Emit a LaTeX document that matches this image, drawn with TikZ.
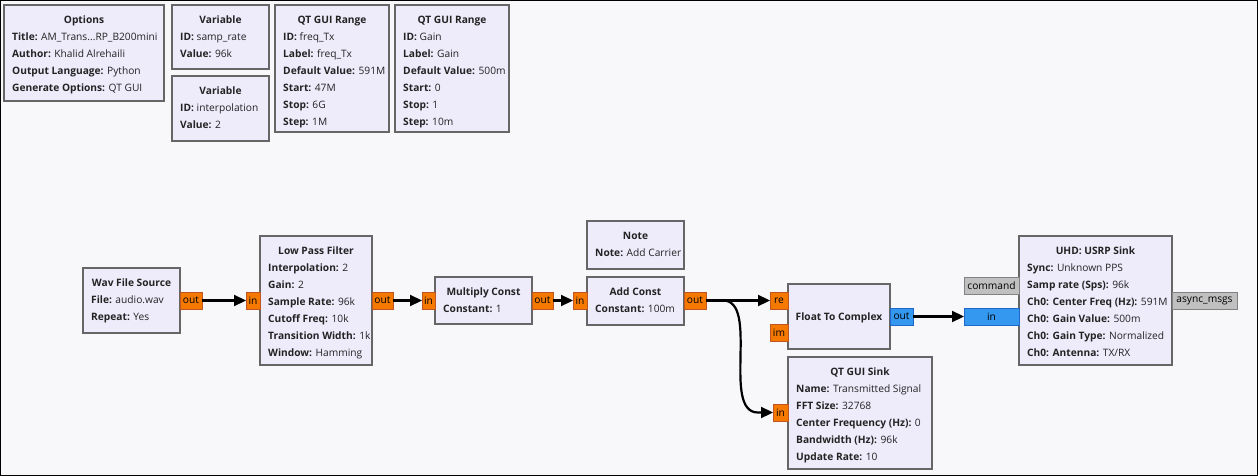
\documentclass[tikz,border=0pt]{standalone}
\usepackage{fontspec}
\setmainfont{Open Sans}
\usetikzlibrary{arrows.meta,calc}
\definecolor{bgc}{RGB}{248,248,250}
\definecolor{blkfill}{RGB}{238,235,250}
\definecolor{blkdraw}{RGB}{102,102,102}
\definecolor{fport}{RGB}{245,121,0}
\definecolor{fportd}{RGB}{190,85,35}
\definecolor{cport}{RGB}{52,152,240}
\definecolor{cportd}{RGB}{30,105,200}
\definecolor{mport}{RGB}{192,192,192}
\definecolor{mportd}{RGB}{130,130,130}
\definecolor{txt}{RGB}{35,35,35}
\newcommand\fsz{\fontsize{10.2}{17}\selectfont}
\newcommand\kv[2]{\textbf{#1:} #2}
\tikzset{
 blk/.style={draw=blkdraw, fill=blkfill, line width=2pt, rectangle, inner sep=0pt, outer sep=0pt, anchor=north west},
 ttl/.style={anchor=base, inner sep=0pt, font=\fsz\bfseries, text=txt},
 prm/.style={anchor=base west, inner sep=0pt, font=\fsz, text=txt},
 port/.style={rectangle, line width=1pt, inner sep=0pt, outer sep=0pt, anchor=north west, font=\fsz, text=black},
 fp/.style={port, draw=fportd, fill=fport},
 cp/.style={port, draw=cportd, fill=cport},
 mp/.style={port, draw=mportd, fill=mport},
 conn/.style={draw=black, line width=2.2pt, -{Triangle[length=12pt,width=11pt]}},
 frame/.style={draw=black, line width=2pt},
}
\newcommand\blk[7]{%
 \node[blk, minimum width=#4pt, minimum height=#5pt] (#1) at (#2,#3) {};
 \node[ttl] (#1-t) at ($(#1.north)+(0,18.5)$) {#6};
 \node[prm] (#1-p) at ($(#1.north west)+(8,35.5)$) {\begin{tabular}[t]{@{}l@{}}#7\end{tabular}};
}
\newcommand\prt[7]{%
 \node[#1, minimum width=#5pt, minimum height=#6pt] (#2) at (#3,#4) {#7};
}
\begin{document}
\begin{tikzpicture}[x=1pt,y=-1pt]
\useasboundingbox (0,0) rectangle (1258,476);
\fill[bgc] (0,0) rectangle (1258,476);
\draw[frame] (0,0) rectangle (1258,476);

% variable / option blocks
\blk{opt}{4}{5}{160}{96}{Options}{\kv{Title}{AM\_Trans...RP\_B200mini}\\ \kv{Author}{Khalid Alrehaili}\\ \kv{Output Language}{Python}\\ \kv{Generate Options}{QT GUI}}
\blk{var1}{172}{5}{97}{64}{Variable}{\kv{ID}{samp\_rate}\\ \kv{Value}{96k}}
\blk{var2}{172}{76}{97}{65}{Variable}{\kv{ID}{interpolation}\\ \kv{Value}{2}}
\blk{rng1}{275}{5}{114}{127}{QT GUI Range}{\kv{ID}{freq\_Tx}\\ \kv{Label}{freq\_Tx}\\ \kv{Default Value}{591M}\\ \kv{Start}{47M}\\ \kv{Stop}{6G}\\ \kv{Step}{1M}}
\blk{rng2}{395}{5}{114}{127}{QT GUI Range}{\kv{ID}{Gain}\\ \kv{Label}{Gain}\\ \kv{Default Value}{500m}\\ \kv{Start}{0}\\ \kv{Stop}{1}\\ \kv{Step}{10m}}

% flow blocks
\blk{wav}{83}{268}{97}{65}{Wav File Source}{\kv{File}{audio.wav}\\ \kv{Repeat}{Yes}}
\blk{lpf}{260}{236}{112}{129}{Low Pass Filter}{\kv{Interpolation}{2}\\ \kv{Gain}{2}\\ \kv{Sample Rate}{96k}\\ \kv{Cutoff Freq}{10k}\\ \kv{Transition Width}{1k}\\ \kv{Window}{Hamming}}
\blk{mul}{435}{277}{97}{47}{Multiply Const}{\kv{Constant}{1}}
\blk{note}{587}{221}{97}{48}{Note}{\kv{Note}{Add Carrier}}
\blk{add}{587}{277}{97}{48}{Add Const}{\kv{Constant}{100m}}
\node[blk, minimum width=102pt, minimum height=65pt] (f2c) at (788,284) {};
\node[ttl] (f2c-t) at ($(f2c.center)+(0,4)$) {Float To Complex};
\blk{gui}{788}{357}{144}{112}{QT GUI Sink}{\kv{Name}{Transmitted Signal}\\ \kv{FFT Size}{32768}\\ \kv{Center Frequency (Hz)}{0}\\ \kv{Bandwidth (Hz)}{96k}\\ \kv{Update Rate}{10}}
\blk{usrp}{1019}{236}{153}{129}{UHD: USRP Sink}{\kv{Sync}{Unknown PPS}\\ \kv{Samp rate (Sps)}{96k}\\ \kv{Ch0: Center Freq (Hz)}{591M}\\ \kv{Ch0: Gain Value}{500m}\\ \kv{Ch0: Gain Type}{Normalized}\\ \kv{Ch0: Antenna}{TX/RX}}

% ports
\prt{fp}{wav-o}{180}{292}{22}{17}{out}
\prt{fp}{lpf-i}{246}{292}{14}{17}{in}
\prt{fp}{lpf-o}{372}{292}{21}{17}{out}
\prt{fp}{mul-i}{422}{292}{13}{17}{in}
\prt{fp}{mul-o}{532}{292}{21}{17}{out}
\prt{fp}{add-i}{573}{292}{14}{17}{in}
\prt{fp}{add-o}{684}{292}{22}{17}{out}
\prt{fp}{f2c-re}{770}{292}{18}{17}{re}
\prt{fp}{f2c-im}{770}{324}{18}{17}{im}
\prt{cp}{f2c-o}{890}{308}{23}{17}{out}
\prt{fp}{gui-i}{773}{404}{15}{17}{in}
\prt{mp}{usrp-c}{964}{277}{55}{17}{command}
\prt{cp}{usrp-i}{964}{308}{55}{17}{in}
\prt{mp}{usrp-a}{1172}{292}{65}{17}{async\_msgs}

% connections
\draw[conn] (wav-o.east) -- (lpf-i.west);
\draw[conn] (lpf-o.east) -- (mul-i.west);
\draw[conn] (mul-o.east) -- (add-i.west);
\draw[conn] (add-o.east) -- (f2c-re.west);
\draw[conn] (add-o.east) -- ++(17,0) .. controls +(37,0) and ($(gui-i.west)+(-52,0)$) .. ($(gui-i.west)+(-15,0)$) -- (gui-i.west);
\draw[conn] (f2c-o.east) -- (usrp-i.west);
\end{tikzpicture}
\end{document}
